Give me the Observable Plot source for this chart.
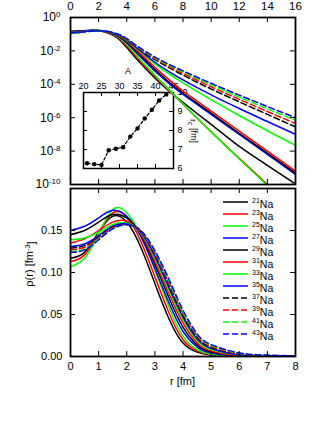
<!DOCTYPE html>
<html><head><meta charset="utf-8">
<script src="https://cdn.jsdelivr.net/npm/d3@7"></script>
<script src="https://cdn.jsdelivr.net/npm/@observablehq/plot@0.6"></script>
<style>
body{margin:0;background:#fff;}
#wrap{position:relative;width:327px;height:423px;font-family:"Liberation Sans",Arial,Helvetica,sans-serif;overflow:hidden;}
#wrap > div{position:absolute;left:0;}
#wrap svg{overflow:visible;}
</style></head><body>
<div id="wrap"><div id="inset" style="top:0"></div><div id="top" style="top:0"></div><div id="bottom" style="top:186px"></div><div id="legend" style="top:0"></div></div>
<script>
// radial grid (fm)
const radius = [0,0.5,1,1.5,2,2.5,3,3.5,4,4.5,5,6,7,8,9,10,12,14,16];
// densities rho(r) [fm^-3]
const na21 = [0.117,0.124,0.148,0.167,0.160,0.130,0.087,0.045,0.016,0.0052,1.78e-3,2.40e-4,3.98e-5,8.32e-6,1.78e-6,3.98e-7,1.91e-8,1.41e-9,1.07e-10];
const na23 = [0.113,0.121,0.147,0.171,0.166,0.137,0.095,0.052,0.020,0.0068,2.24e-3,3.16e-4,4.47e-5,6.31e-6,9.33e-7,1.41e-7,3.72e-9,1.0e-10,2.51e-12];
const na25 = [0.107,0.117,0.146,0.175,0.171,0.144,0.103,0.059,0.024,0.0083,2.75e-3,3.63e-4,4.79e-5,6.61e-6,9.55e-7,1.41e-7,3.39e-9,8.71e-11,2.24e-12];
const na27 = [0.150,0.155,0.165,0.174,0.167,0.143,0.105,0.064,0.030,0.0115,4.17e-3,6.31e-4,1.12e-4,2.51e-5,6.31e-6,1.58e-6,1.0e-7,6.31e-9,3.98e-10];
const na29 = [0.145,0.150,0.160,0.169,0.165,0.145,0.110,0.070,0.035,0.0138,5.25e-3,7.94e-4,1.38e-4,3.02e-5,7.41e-6,1.86e-6,1.17e-7,7.59e-9,4.79e-10];
const na31 = [0.135,0.140,0.150,0.160,0.161,0.146,0.113,0.075,0.040,0.0165,6.61e-3,1.05e-3,1.91e-4,3.98e-5,1.0e-5,2.51e-6,1.58e-7,1.0e-8,6.31e-10];
const na33 = [0.139,0.141,0.148,0.157,0.159,0.147,0.117,0.079,0.044,0.019,8.32e-3,1.66e-3,4.17e-4,1.20e-4,3.72e-5,1.20e-5,1.35e-6,1.66e-7,2.24e-8];
const na35 = [0.131,0.134,0.144,0.155,0.158,0.148,0.119,0.082,0.047,0.021,9.55e-3,2.09e-3,5.75e-4,1.82e-4,6.31e-5,2.34e-5,3.55e-6,5.89e-7,1.0e-7];
const na37 = [0.129,0.132,0.142,0.154,0.157,0.149,0.122,0.086,0.049,0.0232,1.10e-2,3.02e-3,1.0e-3,3.55e-4,1.32e-4,5.25e-5,8.91e-6,1.58e-6,2.82e-7];
const na39 = [0.127,0.130,0.141,0.153,0.157,0.149,0.123,0.088,0.051,0.0245,1.20e-2,3.47e-3,1.20e-3,4.47e-4,1.74e-4,7.08e-5,1.26e-5,2.34e-6,4.47e-7];
const na41 = [0.125,0.128,0.140,0.152,0.157,0.150,0.125,0.090,0.053,0.026,1.32e-2,3.89e-3,1.38e-3,5.37e-4,2.19e-4,9.33e-5,1.70e-5,3.39e-6,7.08e-7];
const na43 = [0.124,0.127,0.139,0.152,0.157,0.150,0.126,0.092,0.055,0.027,1.41e-2,4.27e-3,1.58e-3,6.31e-4,2.63e-4,1.15e-4,2.24e-5,4.68e-6,1.0e-6];
const massNumbers = [21,23,25,27,29,31,33,35,37,39,41,43];
const seriesColors = ["#000000","#ff0000","#00ff00","#0000ff"];
// inset: A vs r_c
const insetA = [21,23,25,27,29,31,33,35,37,39,41,43];
const insetR = [6.28,6.23,6.19,6.96,7.04,7.12,7.68,8.11,8.63,9.09,9.58,9.90];
// ticks
const logTicks = [1,1e-2,1e-4,1e-6,1e-8,1e-10];
const logExp = ["0","-2","-4","-6","-8","-10"];
const topXTicks = [0,2,4,6,8,10,12,14,16];
const botXTicks = [0,1,2,3,4,5,6,7,8];
const botYTicks = [0,0.05,0.10,0.15];
const insetXTicks = [20,25,30,35,40,45];
const insetYTicks = [6,7,8,9,10];

const profiles = [na21,na23,na25,na27,na29,na31,na33,na35,na37,na39,na41,na43];
const rows = [];
massNumbers.forEach((A,i)=>radius.forEach((r,j)=>rows.push({A, r, rho: profiles[i][j]})));

const FONT = '"Liberation Sans",Arial,Helvetica,sans-serif';
const W = 327, ML = 70, MR = 32, FW = W-ML-MR;
function lineMarks(curve){
  return massNumbers.map((A,i)=>Plot.line(rows.filter(d=>d.A===A),{
    x:"r", y:"rho", stroke: seriesColors[i%4], strokeWidth:1.5,
    strokeDasharray: A>=37 ? "6,3" : null, curve, clip:true
  }));
}
function innerTicks(xt, yt, fw, fh, len){
  return [
    Plot.tickX(xt,{x:d=>d, insetBottom: fh-len, stroke:"black"}),
    Plot.tickX(xt,{x:d=>d, insetTop: fh-len, stroke:"black"}),
    Plot.tickY(yt,{y:d=>d, insetRight: fw-len, stroke:"black"}),
    Plot.tickY(yt,{y:d=>d, insetLeft: fw-len, stroke:"black"})
  ];
}

// ---------- inset ----------
const IH = 186, IMT = 92, IMB = 18, IML = 83, IMR = 154;
const insetPlot = Plot.plot({
  width: W, height: IH, marginLeft: IML, marginRight: IMR, marginTop: IMT, marginBottom: IMB,
  style:{background:"transparent", fontFamily: FONT, fontSize:"9px", color:"black"},
  x:{domain:[20,45]}, y:{domain:[6,10]},
  marks:[
    Plot.line(insetA.map((a,i)=>({a, r: insetR[i]})),{x:"a", y:"r", stroke:"black", strokeWidth:1.2, strokeDasharray:"3,2"}),
    Plot.dot(insetA.map((a,i)=>({a, r: insetR[i]})),{x:"a", y:"r", fill:"black", r:2.2}),
    Plot.frame({stroke:"black", strokeWidth:1.5}),
    ...innerTicks(insetXTicks, insetYTicks, W-IML-IMR, IH-IMT-IMB, 4),
    Plot.axisX({ticks: insetXTicks, anchor:"top", tickSize:0, tickPadding:4, label:null, fontSize:9, tickFormat: d3.format("d")}),
    Plot.axisY({ticks: insetYTicks, anchor:"right", tickSize:0, tickPadding:4, label:null, fontSize:9, tickFormat: d3.format("d")})
  ]
});
document.getElementById("inset").appendChild(insetPlot);

// ---------- top panel (log) ----------
const TH = 186, TMT = 17, TMB = 2;
const topPlot = Plot.plot({
  width: W, height: TH, marginLeft: ML, marginRight: MR, marginTop: TMT, marginBottom: TMB,
  style:{background:"transparent", fontFamily: FONT, fontSize:"12px", color:"black"},
  x:{domain:[0,16]}, y:{type:"log", domain:[1e-10,1]},
  marks:[
    ...lineMarks("monotone-x"),
    Plot.frame({stroke:"black", strokeWidth:1.8}),
    ...innerTicks(topXTicks, logTicks, FW, TH-TMT-TMB, 5),
    Plot.axisX({ticks: topXTicks, anchor:"top", tickSize:0, tickPadding:8, label:null, fontSize:11.5}),
    Plot.axisY({ticks: logTicks, anchor:"left", tickSize:0, tickPadding:10, label:null, fontSize:12, tickFormat:()=>"10"})
  ]
});
document.getElementById("top").appendChild(topPlot);

// ---------- bottom panel (linear) ----------
const BH = 237, BMT = 2, BMB = 67;
const botPlot = Plot.plot({
  width: W, height: BH, marginLeft: ML, marginRight: MR, marginTop: BMT, marginBottom: BMB,
  style:{background:"transparent", fontFamily: FONT, fontSize:"11px", color:"black"},
  x:{domain:[0,8]}, y:{domain:[0,0.2]},
  marks:[
    ...lineMarks("natural"),
    Plot.frame({stroke:"black", strokeWidth:1.8}),
    ...innerTicks(botXTicks, botYTicks, FW, BH-BMT-BMB, 5),
    Plot.axisX({ticks: botXTicks, anchor:"bottom", tickSize:0, tickPadding:6, label:null, fontSize:11}),
    Plot.axisY({ticks: botYTicks, anchor:"left", tickSize:0, tickPadding:8, label:null, fontSize:11, tickFormat: d3.format(".2f")})
  ]
});
document.getElementById("bottom").appendChild(botPlot);

// ---------- superscripts on log tick labels ----------
d3.select(topPlot).selectAll('g[aria-label="y-axis tick label"] text').each(function(d,i){
  d3.select(this).append("tspan").attr("dy","-0.5em").attr("font-size","8px").text(logExp[i]);
});

// ---------- axis titles ----------
const bsv = d3.select(botPlot);
bsv.append("text").attr("x",182.5).attr("y",199).attr("text-anchor","middle")
  .attr("font-size","11px").attr("font-family",FONT).attr("fill","black").text("r [fm]");
const yl = bsv.append("text").attr("transform","translate(33,78) rotate(-90)").attr("text-anchor","middle")
  .attr("font-size","11px").attr("font-family",FONT).attr("fill","black");
yl.append("tspan").text("ρ(r) [fm");
yl.append("tspan").attr("dy","-0.45em").attr("font-size","7.5px").text("-3");
yl.append("tspan").attr("dy","0.45em").text("]");

const isv = d3.select(insetPlot);
isv.append("text").attr("x",128).attr("y",74).attr("text-anchor","middle")
  .attr("font-size","9px").attr("font-family",FONT).attr("fill","black").text("A");
const rl = isv.append("text").attr("transform","translate(190,131) rotate(90)").attr("text-anchor","middle")
  .attr("font-size","9px").attr("font-family",FONT).attr("fill","black");
rl.append("tspan").text("r");
rl.append("tspan").attr("dy","0.3em").attr("font-size","7px").text("c");
rl.append("tspan").attr("dy","-0.3em").text(" [fm]");

// ---------- legend ----------
const leg = d3.select("#legend").append("svg").attr("width",W).attr("height",423)
  .style("font-family",FONT);
massNumbers.forEach((A,i)=>{
  const y = 202 + i*12.0;
  leg.append("line").attr("x1",223).attr("x2",248).attr("y1",y).attr("y2",y)
    .attr("stroke",seriesColors[i%4]).attr("stroke-width",1.5)
    .attr("stroke-dasharray", A>=37 ? "6,3" : null);
  const t = leg.append("text").attr("x",252).attr("y",y+4).attr("font-size","10.5px");
  t.append("tspan").attr("dy","-0.45em").attr("font-size","7px").text(A);
  t.append("tspan").attr("dy","0.45em").text("Na");
});
</script></body></html>
